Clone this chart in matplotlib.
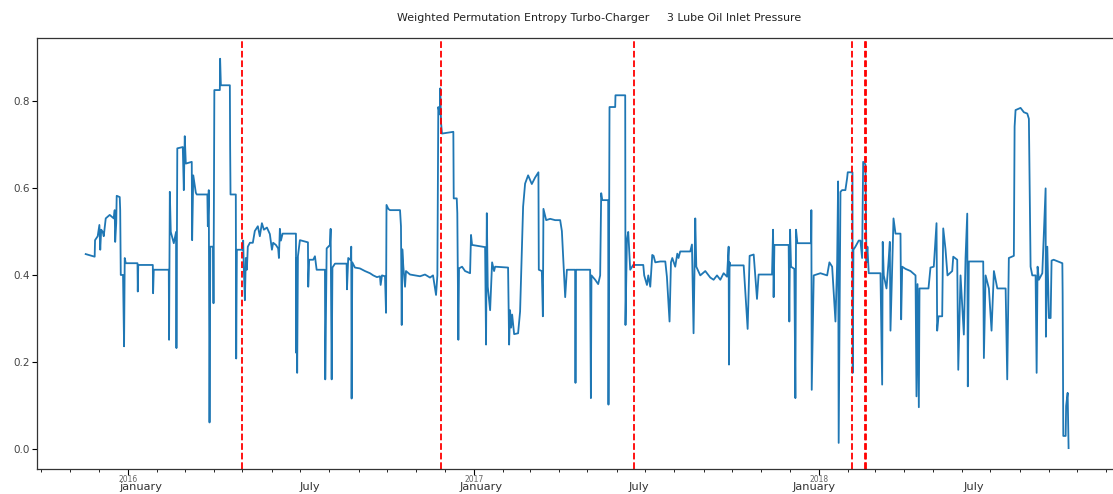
import numpy as np
import pandas as pd
import matplotlib
matplotlib.use('Agg')
import matplotlib.pyplot as plt
import matplotlib.dates as mdates


# days after 2016-01-01 and weighted permutation entropy
days_2016 = [-44.8, -35.3, -34.9, -32.1, -30.3, -29.4, -28.4, -26.8, -25.7, -23.6, -19.4, -15.1, -14.1, -13.6,
             -12.5, -12.0, -8.8, -8.3, -7.7, -5.3, -4.2, -3.5, -2.4, 10.0, 10.3, 10.8, 26.2, 26.5, 27.2, 43.1,
             43.4, 44.2, 45.2, 48.4, 50.8, 51.2, 52.1, 57.9, 59.0, 60.0, 61.1, 67.4, 67.8, 69.0, 71.7, 72.7,
             83.9, 84.4, 85.4, 86.2, 87.0, 90.0, 90.4, 91.3, 97.1, 97.4, 98.2, 107.7, 108.0, 108.4, 114.0,
             114.4, 115.1, 121.1, 121.8, 122.5, 123.6, 124.6, 125.7, 126.7, 128.9, 132.0, 134.1, 137.3, 139.4,
             141.6, 143.7, 146.9, 150.0, 152.2, 153.5, 156.4, 158.8, 159.6, 160.6, 161.7, 163.5, 177.6, 177.9,
             178.3, 178.9, 179.7, 181.8, 190.3, 190.6, 191.6, 195.9, 197.7, 199.5, 208.3, 208.6, 210.1, 213.6,
             214.3, 215.4, 216.2, 218.9, 231.2, 231.6, 232.9, 235.5, 236.1, 236.5, 237.2, 240.0, 245.3, 250.6,
             255.9, 259.4, 263.3, 266.5, 267.2, 268.6, 271.8, 272.9, 273.4, 275.3, 277.1, 287.7, 288.7, 289.5,
             290.1, 291.2, 293.0, 294.0, 298.3, 303.6, 308.9, 314.1, 319.4, 322.6, 324.0, 325.8, 327.2, 328.2,
             329.7, 330.3, 331.1, 332.1, 344.1, 344.5, 347.7, 348.3, 349.4, 350.1, 353.3, 356.5, 361.8, 362.8,
             363.9]
wpe_2016 = [0.449, 0.443, 0.481, 0.49, 0.516, 0.459, 0.505, 0.50, 0.49, 0.531, 0.539, 0.531, 0.55, 0.477,
            0.52, 0.583, 0.58, 0.55, 0.401, 0.401, 0.237, 0.44, 0.428, 0.428, 0.363, 0.424, 0.424, 0.359, 0.413,
            0.413, 0.252, 0.592, 0.50, 0.474, 0.50, 0.233, 0.692, 0.695, 0.596, 0.72, 0.657, 0.661, 0.481, 0.63,
            0.59, 0.586, 0.586, 0.513, 0.596, 0.062, 0.466, 0.466, 0.336, 0.826, 0.826, 0.898, 0.837, 0.837,
            0.695, 0.586, 0.586, 0.209, 0.459, 0.459, 0.48, 0.413, 0.343, 0.44, 0.413, 0.466, 0.475, 0.475,
            0.502, 0.513, 0.49, 0.52, 0.505, 0.51, 0.495, 0.459, 0.475, 0.47, 0.462, 0.44, 0.507, 0.48, 0.496,
            0.496, 0.222, 0.44, 0.176, 0.444, 0.481, 0.476, 0.374, 0.436, 0.436, 0.444, 0.413, 0.413, 0.161,
            0.462, 0.47, 0.507, 0.161, 0.418, 0.427, 0.427, 0.368, 0.44, 0.435, 0.466, 0.117, 0.43, 0.418,
            0.416, 0.41, 0.405, 0.40, 0.396, 0.398, 0.378, 0.40, 0.398, 0.314, 0.562, 0.553, 0.55, 0.55, 0.513,
            0.286, 0.46, 0.42, 0.374, 0.41, 0.402, 0.40, 0.398, 0.402, 0.395, 0.40, 0.38, 0.355, 0.40, 0.787,
            0.77, 0.83, 0.75, 0.726, 0.73, 0.577, 0.577, 0.543, 0.252, 0.416, 0.42, 0.41, 0.405, 0.493, 0.47]

days_2017 = [377.7, 378.7, 379.5, 380.5, 383.0, 385.1, 387.2, 388.3, 402.0, 403.1, 404.1, 405.2, 406.3, 408.4,
             412.6, 414.7, 417.9, 420.0, 423.2, 427.1, 430.6, 434.1, 434.5, 437.7, 438.8, 439.4, 442.3, 446.5,
             451.8, 457.1, 458.9, 462.4, 464.2, 473.0, 473.3, 473.7, 488.8, 489.6, 490.2, 494.1, 497.3, 499.4,
             500.5, 501.6, 507.9, 508.2, 509.3, 515.3, 515.6, 525.9, 526.2, 527.7, 529.1, 531.2, 534.4, 545.0,
             546.0, 548.9, 550.3, 552.4, 554.5, 555.9, 557.7, 563.0, 568.3, 570.0, 572.8, 574.3, 575.7, 578.8,
             581.0, 582.3, 584.1, 594.7, 596.5, 598.2, 600.0, 601.1, 605.3, 610.6, 615.9, 619.4, 623.0, 626.5,
             630.0, 633.6, 635.3, 635.7, 636.3, 637.1, 651.2, 653.0, 655.4, 657.5, 661.8, 665.3, 667.0, 681.2,
             682.3, 682.9, 683.7, 698.8, 699.5, 700.3, 701.3, 704.8, 705.9, 706.6, 708.0, 722.5, 722.8, 723.2,
             725.3]
wpe_2017 = [0.465, 0.241, 0.543, 0.374, 0.32, 0.43, 0.41, 0.42, 0.418, 0.241, 0.32, 0.28, 0.31, 0.265, 0.267,
            0.317, 0.558, 0.611, 0.63, 0.61, 0.625, 0.637, 0.413, 0.41, 0.306, 0.553, 0.527, 0.53, 0.527, 0.527,
            0.502, 0.35, 0.413, 0.413, 0.153, 0.413, 0.413, 0.118, 0.40, 0.39, 0.38, 0.40, 0.589, 0.573, 0.573,
            0.103, 0.787, 0.787, 0.814, 0.814, 0.286, 0.481, 0.50, 0.413, 0.424, 0.424, 0.40, 0.378, 0.40, 0.374,
            0.447, 0.445, 0.43, 0.432, 0.432, 0.397, 0.294, 0.43, 0.44, 0.42, 0.45, 0.44, 0.455, 0.455, 0.471,
            0.267, 0.531, 0.42, 0.40, 0.41, 0.395, 0.39, 0.40, 0.39, 0.405, 0.397, 0.466, 0.195, 0.43, 0.423,
            0.423, 0.36, 0.277, 0.445, 0.448, 0.346, 0.402, 0.402, 0.505, 0.35, 0.47, 0.47, 0.294, 0.505, 0.42,
            0.415, 0.118, 0.505, 0.474, 0.474, 0.55, 0.137, 0.40]

days_2018 = [732.4, 739.5, 741.9, 744.8, 748.3, 750.1, 751.1, 751.7, 753.6, 755.3, 758.8, 760.6, 761.3, 766.3,
             766.6, 767.3, 769.4, 772.9, 774.7, 776.5, 777.6, 780.0, 781.1, 782.1, 783.5, 795.9, 797.7, 798.3,
             799.4, 802.3, 804.4, 805.8, 806.5, 809.7, 811.8, 817.1, 817.8, 818.9, 822.4, 827.7, 833.0, 834.0,
             835.1, 836.5, 837.2, 846.7, 848.8, 852.3, 855.2, 855.9, 857.3, 861.2, 862.3, 864.7, 866.8, 871.8,
             872.9, 877.1, 878.2, 880.6, 884.1, 885.9, 887.7, 888.3, 889.4, 904.6, 905.3, 907.1, 910.6, 913.4,
             915.9, 919.5, 921.2, 928.3, 930.0, 931.7, 937.0, 937.8, 938.8, 944.1, 947.6, 951.2, 952.9, 954.7,
             956.5, 960.0, 961.1, 962.1, 963.5, 967.1, 970.6, 970.9, 972.4, 974.1, 975.9, 976.9, 979.1, 988.3,
             988.6, 989.3, 991.8, 992.3, 993.9, 994.9]
wpe_2018 = [0.405, 0.40, 0.43, 0.42, 0.294, 0.43, 0.616, 0.015, 0.592, 0.596, 0.596, 0.623, 0.637, 0.637,
            0.176, 0.459, 0.466, 0.48, 0.48, 0.44, 0.661, 0.655, 0.43, 0.466, 0.405, 0.405, 0.149, 0.477, 0.40,
            0.37, 0.43, 0.477, 0.273, 0.531, 0.496, 0.496, 0.299, 0.42, 0.415, 0.41, 0.40, 0.122, 0.38, 0.097,
            0.37, 0.37, 0.418, 0.42, 0.52, 0.273, 0.306, 0.306, 0.508, 0.46, 0.40, 0.41, 0.443, 0.436, 0.183,
            0.40, 0.264, 0.44, 0.542, 0.145, 0.432, 0.432, 0.21, 0.40, 0.37, 0.273, 0.41, 0.37, 0.37, 0.37,
            0.161, 0.44, 0.445, 0.742, 0.78, 0.785, 0.775, 0.772, 0.76, 0.42, 0.40, 0.40, 0.176, 0.42, 0.39,
            0.405, 0.60, 0.259, 0.466, 0.302, 0.302, 0.434, 0.436, 0.428, 0.359, 0.031, 0.031, 0.10, 0.13, 0.003]

change_points = ['2016-05-01', '2016-11-27', '2017-06-19', '2018-02-05', '2018-02-19', '2018-02-20']
month_labels = ['january', 'July', 'January', 'July', 'January', 'July']
month_label_pos = ['2016-01-14', '2016-07-11', '2017-01-08', '2017-06-24', '2017-12-27', '2018-06-14']

base = pd.Timestamp('2016-01-01')
days = np.array(days_2016 + days_2017 + days_2018)
wpe = np.array(wpe_2016 + wpe_2017 + wpe_2018)
dates = base + pd.to_timedelta(days, unit='D')

fig = plt.figure(figsize=(11.13, 4.94), dpi=100)
ax = fig.add_axes([0.0335, 0.0506, 0.970, 0.8719])

ax.plot(dates, wpe, color='#1f77b4', lw=1.3)
for cp in change_points:
    ax.axvline(pd.Timestamp(cp), color='red', ls='--', lw=1.3)

ax.set_xlim(pd.Timestamp('2015-09-27'), pd.Timestamp('2018-11-12'))
ax.set_ylim(-0.045, 0.945)
ax.set_yticks([0.0, 0.2, 0.4, 0.6, 0.8])
ax.tick_params(axis='y', labelsize=7.5, labelcolor='#444444', length=3.5, width=0.8, pad=2)

ax.xaxis.set_major_locator(mdates.YearLocator())
ax.xaxis.set_minor_locator(mdates.MonthLocator())
ax.xaxis.set_major_formatter(mdates.DateFormatter('%Y'))
ax.tick_params(axis='x', which='major', labelsize=5.5, labelcolor='#666666', length=4, width=0.8, pad=0.5)
ax.tick_params(axis='x', which='minor', length=2.5, width=0.6)

for lab, pos in zip(month_labels, month_label_pos):
    ax.text(pd.Timestamp(pos), -0.0495, lab, transform=ax.get_xaxis_transform(),
            ha='center', va='baseline', fontsize=8.2, color='#333333')

for s in ax.spines.values():
    s.set_color('#333333')
    s.set_linewidth(0.9)

fig.text(599 / 1113, 1 - 18 / 494, 'Weighted Permutation Entropy Turbo-Charger     3 Lube Oil Inlet Pressure',
         ha='center', va='center', fontsize=7.9, color='#222222')

fig.savefig('out.png', dpi=100)
